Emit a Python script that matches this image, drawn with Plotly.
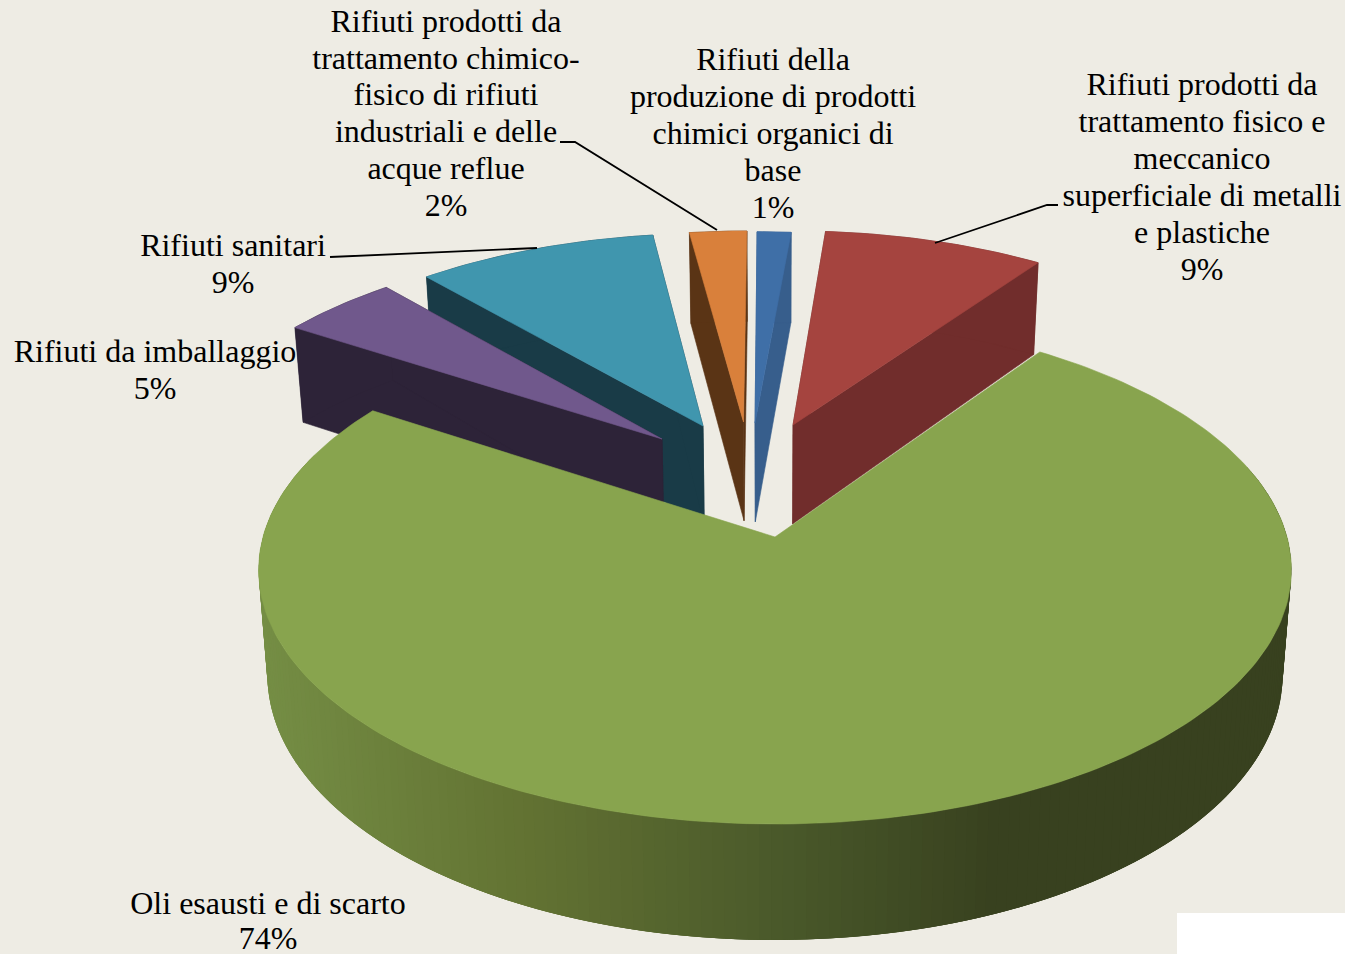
import numpy as np
import plotly.graph_objects as go

# ---- data -----------------------------------------------------------------
CATEGORIES = ["Rifiuti della produzione di prodotti chimici organici di base",
              "Rifiuti prodotti da trattamento fisico e meccanico superficiale di metalli e plastiche",
              "Oli esausti e di scarto",
              "Rifiuti da imballaggio",
              "Rifiuti sanitari",
              "Rifiuti prodotti da trattamento chimico-fisico di rifiuti industriali e delle acque reflue"]
VALUES = [1.3, 8.4, 74.4, 4.5, 9.2, 2.2]
TOP_COLORS = ["#3F6FA7", "#A5443F", "#88A44E", "#70588C", "#4096AE", "#D9803B"]
SIDE_COLORS = ["#375E8C", "#712D2C", "#38411F", "#2D2338", "#193B47", "#5A3415"]
APEX_X = [755, 793, 775, 662, 703, 743.5]
APEX_Y = [423, 425, 537, 439, 426, 422]
RADIUS = [0.968, 0.982, 1.0, 0.975, 0.972, 0.968]
DRAW_ORDER = [5, 0, 4, 1, 3, 2]

LABEL_LINES = [
    (773, [62, 99, 136, 173, 210], ["Rifiuti della", "produzione di prodotti", "chimici organici di", "base", "1%"]),
    (1202, [87, 124, 161, 198, 235, 272], ["Rifiuti prodotti da", "trattamento fisico e", "meccanico", "superficiale di metalli", "e plastiche", "9%"]),
    (268, [906, 941], ["Oli esausti e di scarto", "74%"]),
    (155, [354, 391], ["Rifiuti da imballaggio", "5%"]),
    (233, [248, 285], ["Rifiuti sanitari", "9%"]),
    (446, [24, 61, 97, 134, 171, 208], ["Rifiuti prodotti da", "trattamento chimico-", "fisico di rifiuti", "industriali e delle", "acque reflue", "2%"]),
]
LEADERS = [
    ([1058, 1047, 935], [205, 205, 243]),
    ([560, 575, 717], [142, 142, 230]),
    ([330, 537], [257, 248]),
]
WALL_STOP_X = [260, 520, 775, 1000, 1300]
WALL_STOP_COLORS = ["#758E45", "#637333", "#4B5A2B", "#38411F", "#38411F"]

# ---- perspective of the 3-D pie --------------------------------------------
BG = "#EEECE4"
CX, CY, R, RB, K = 775.0, 537.0, 512.0, 249.7, 0.13


def project(u, v):
    d = 1 + K * v
    return CX + R * u / d, CY - RB * v / d


def lower(x, y):
    return CX + 0.983 * (x - CX), 80.6 + 1.043 * y


def hex2rgb(c):
    return np.array([int(c[i:i + 2], 16) for i in (1, 3, 5)], float)


def wall_color(x):
    rgb = [np.interp(x, WALL_STOP_X, [hex2rgb(c)[i] for c in WALL_STOP_COLORS]) for i in range(3)]
    return "rgb(%d,%d,%d)" % tuple(rgb)


fig = go.Figure()


def poly(xs, ys, color, width=0.6):
    fig.add_trace(go.Scatter(x=list(xs), y=list(ys), mode="lines", fill="toself",
                             fillcolor=color, line=dict(color=color, width=width),
                             hoverinfo="skip", showlegend=False))


total = sum(VALUES)
edges = np.cumsum([0] + VALUES) / total * 2 * np.pi

for i in DRAW_ORDER:
    a0, a1 = edges[i], edges[i + 1]
    t = (CY - APEX_Y[i]) / RB
    dv = t / (1 - K * t)
    du = (APEX_X[i] - CX) / R * (1 + K * dv)
    th = np.linspace(a0, a1, max(int((a1 - a0) * 50), 24))
    rad = RADIUS[i]
    ox, oy = project(du + rad * np.sin(th), dv + rad * np.cos(th))
    ax, ay = project(du, dv)
    lx, ly = lower(ox, oy)
    alx, aly = lower(ax, ay)

    if i != 2:
        # cut faces and outer wall
        poly([ax, ox[0], lx[0], alx, ax], [ay, oy[0], ly[0], aly, ay], SIDE_COLORS[i])
        poly([ax, ox[-1], lx[-1], alx, ax], [ay, oy[-1], ly[-1], aly, ay], SIDE_COLORS[i])
        poly(list(ox) + list(lx[::-1]), list(oy) + list(ly[::-1]), SIDE_COLORS[i])
    else:
        # outer wall with a horizontal gradient: overlapping strips, right to left
        for j in range(len(th) - 1):
            if np.cos(th[j]) < 0.3:
                k = min(j + 3, len(th) - 1)
                xs = list(ox[j:k + 1]) + list(lx[j:k + 1][::-1]) + [ox[j]]
                ys = list(oy[j:k + 1]) + list(ly[j:k + 1][::-1]) + [oy[j]]
                poly(xs, ys, wall_color(0.5 * (ox[j] + ox[j + 1])), width=0)
    poly([ax] + list(ox) + [ax], [ay] + list(oy) + [ay], TOP_COLORS[i])

for lx_, ly_ in LEADERS:
    fig.add_trace(go.Scatter(x=lx_, y=ly_, mode="lines", line=dict(color="#000000", width=1.8),
                             hoverinfo="skip", showlegend=False))

for cx_, ys_, lines_ in LABEL_LINES:
    fig.add_trace(go.Scatter(x=[cx_] * len(lines_), y=ys_, text=lines_, mode="text",
                             textposition="middle center", cliponaxis=False,
                             textfont=dict(family="Liberation Serif", size=32, color="#000000"),
                             hoverinfo="skip", showlegend=False))

fig.update_layout(
    width=1345, height=954, margin=dict(l=0, r=0, t=0, b=0),
    paper_bgcolor=BG, plot_bgcolor=BG, showlegend=False,
    xaxis=dict(range=[0, 1345], visible=False, fixedrange=True),
    yaxis=dict(range=[954, 0], visible=False, fixedrange=True),
    shapes=[dict(type="rect", xref="x", yref="y", x0=1177, x1=1345, y0=913, y1=954,
                 fillcolor="#FFFFFF", line=dict(width=0), layer="below")],
)

fig.write_html("out.html", config=dict(displayModeBar=False),
               post_script="document.body.style.margin='0';document.body.style.background='%s';" % BG)
